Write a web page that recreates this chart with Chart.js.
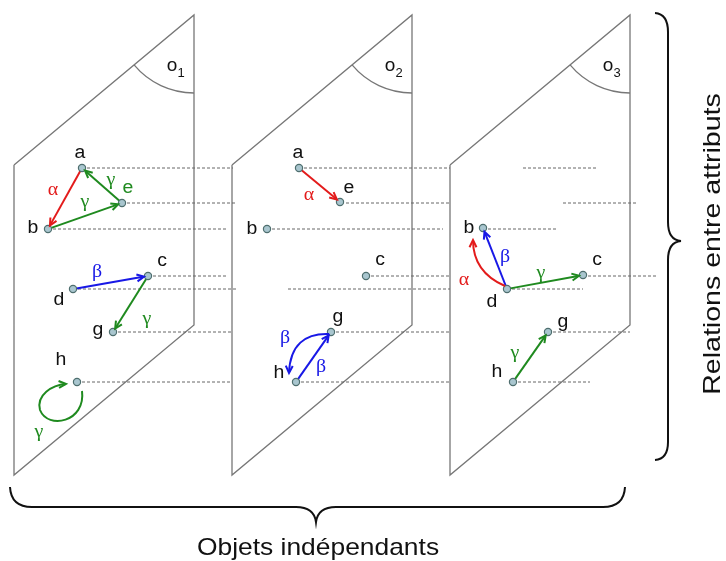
<!DOCTYPE html>
<html><head><meta charset="utf-8">
<script src="https://cdn.jsdelivr.net/npm/chart.js@4/dist/chart.umd.min.js"></script>
<style>html,body{margin:0;padding:0;background:#fff}#wrap{width:726px;height:561px;position:relative}</style>
</head><body><div id="wrap"><canvas id="c"></canvas></div>
<script>
// ---- panels (independent objects) ----
const panelNames = ['o', 'o', 'o'];
const panelIndex = ['1', '2', '3'];
const panelOffsetX = [0, 218, 436];
const panelShapeX = [14, 194, 194, 14, 14];
const panelShapeY = [165, 15, 325, 475, 165];

// ---- attribute nodes per panel ----
const p1Names = ['a', 'b', 'c', 'd', 'e', 'g', 'h'];
const p1X = [82, 48, 148, 73, 122, 113, 77];
const p1Y = [168, 229, 276, 289, 203, 332, 382];
const p1LabelX = [80, 33, 162, 59, 128, 98, 61];
const p1LabelY = [153, 228, 261, 300, 188, 330, 360];

const p2Names = ['a', 'b', 'c', 'e', 'g', 'h'];
const p2X = [299, 267, 366, 340, 331, 296];
const p2Y = [168, 229, 276, 202, 332, 382];
const p2LabelX = [298, 252, 380, 349, 338, 279];
const p2LabelY = [153, 229, 260, 188, 317, 373];

const p3Names = ['b', 'c', 'd', 'g', 'h'];
const p3X = [483, 583, 507, 548, 513];
const p3Y = [228, 275, 289, 332, 382];
const p3LabelX = [469, 597, 492, 563, 497];
const p3LabelY = [228, 260, 302, 322, 372];

// ---- relations ----
const relNames = ['α', 'β', 'γ'];
const relColors = ['#e31b1b', '#1818e6', '#1f8a1f'];
const p1Arrows = [['a','b','α'], ['b','e','γ'], ['e','a','γ'], ['d','c','β'], ['c','g','γ']];
const p2Arrows = [['a','e','α'], ['h','g','β']];
const p3Arrows = [['d','b','β'], ['d','c','γ'], ['h','g','γ']];
// curved relations (cubic bezier chains)
const curveRel = ['γ', 'β', 'α'];
const curve1 = [[82,391],[86,422],[48,430],[40,410],[36,395],[52,385],[66,384]];
const curve2 = [[329,334],[305,333],[290,345],[289,373]];
const curve3 = [[505,286],[484,277],[473,261],[473,240]];
const curves = [curve1, curve2, curve3];
// relation labels
const rel1 = [['α',53,190],['γ',111,180],['γ',85,202],['β',97,272],['γ',147,319],['γ',39,432]];
const rel2 = [['α',309,195],['β',321,367],['β',285,338]];
const rel3 = [['β',505,257],['α',464,280],['γ',541,273],['γ',515,353]];

// ---- dashed attribute rows ----
const dashRowY = [168, 203, 229, 276, 289, 332, 382];
const dashP1 = [[82,233],[122,237],[48,228],[148,228],[73,237],[113,233],[77,230]];
const dashP2 = [[299,450],[341,450],[267,443],[366,450],[288,450],[331,450],[296,450]];
const dashP3 = [[523,597],[563,638],[483,557],[583,658],[507,583],[548,630],[513,590]];

const bottomTitle = 'Objets indépendants';
const sideTitle = 'Relations entre attributs';

// ---------------------------------------------------------
const panels = [
  {names:p1Names, X:p1X, Y:p1Y, LX:p1LabelX, LY:p1LabelY, arrows:p1Arrows, rels:rel1},
  {names:p2Names, X:p2X, Y:p2Y, LX:p2LabelX, LY:p2LabelY, arrows:p2Arrows, rels:rel2},
  {names:p3Names, X:p3X, Y:p3Y, LX:p3LabelX, LY:p3LabelY, arrows:p3Arrows, rels:rel3}
];
const colorOf = r => relColors[relNames.indexOf(r)];

const datasets = [];
// nodes (index 0 => drawn on top)
const nodePts = [];
panels.forEach(p => p.names.forEach((n,i) => nodePts.push({x:p.X[i], y:p.Y[i]})));
datasets.push({type:'scatter', data:nodePts, pointRadius:3.6, pointBackgroundColor:'#a9c6cf',
  pointBorderColor:'#4e6e6e', pointBorderWidth:1.2, showLine:false});

// straight arrows shafts
const arrowHeads = [];
panels.forEach(p => {
  p.arrows.forEach(([f,t,r]) => {
    const i = p.names.indexOf(f), j = p.names.indexOf(t);
    const x0=p.X[i], y0=p.Y[i], x1=p.X[j], y1=p.Y[j];
    const L = Math.hypot(x1-x0, y1-y0), ux=(x1-x0)/L, uy=(y1-y0)/L;
    const sx=x0+ux*3.5, sy=y0+uy*3.5, ex=x1-ux*4, ey=y1-uy*4;
    datasets.push({type:'line', data:[{x:sx,y:sy},{x:ex-ux*1,y:ey-uy*1}], borderColor:colorOf(r),
      borderWidth:2, pointRadius:0, showLine:true, tension:0});
    arrowHeads.push({x:ex, y:ey, ux, uy, color:colorOf(r)});
  });
});
// dashed rows
[dashP1, dashP2, dashP3].forEach(seg => seg.forEach((s,k) => {
  datasets.push({type:'line', data:[{x:s[0],y:dashRowY[k]},{x:s[1],y:dashRowY[k]}], borderColor:'#666',
    borderWidth:1, borderDash:[3,2], pointRadius:0, showLine:true});
}));
// panel outlines
panelOffsetX.forEach(off => {
  datasets.push({type:'line', data:panelShapeX.map((x,i)=>({x:x+off, y:panelShapeY[i]})),
    borderColor:'#777', borderWidth:1.3, pointRadius:0, showLine:true, tension:0});
});

const deco = {
  id:'deco',
  afterDatasetsDraw(chart) {
    const ctx = chart.ctx, xs = chart.scales.x, ys = chart.scales.y;
    const X = v => xs.getPixelForValue(v), Y = v => ys.getPixelForValue(v);
    const head = (x,y,ux,uy,color) => {
      const a = 0.45, L = 8;
      ctx.save(); ctx.strokeStyle=color; ctx.fillStyle=color; ctx.lineWidth=2; ctx.lineJoin='miter';
      const ang = Math.atan2(uy,ux);
      ctx.beginPath();
      ctx.moveTo(X(x)-L*Math.cos(ang-a), Y(y)-L*Math.sin(ang-a));
      ctx.lineTo(X(x), Y(y));
      ctx.lineTo(X(x)-L*Math.cos(ang+a), Y(y)-L*Math.sin(ang+a));
      ctx.stroke(); ctx.restore();
    };
    arrowHeads.forEach(h => head(h.x,h.y,h.ux,h.uy,h.color));
    // curved arrows
    curves.forEach((c,k) => {
      const col = colorOf(curveRel[k]);
      ctx.save(); ctx.strokeStyle=col; ctx.lineWidth=2;
      ctx.beginPath(); ctx.moveTo(X(c[0][0]),Y(c[0][1]));
      for (let i=1;i+2<c.length;i+=3) ctx.bezierCurveTo(X(c[i][0]),Y(c[i][1]),X(c[i+1][0]),Y(c[i+1][1]),X(c[i+2][0]),Y(c[i+2][1]));
      ctx.stroke(); ctx.restore();
      const e=c[c.length-1], p=c[c.length-2];
      const L=Math.hypot(e[0]-p[0],e[1]-p[1]);
      head(e[0],e[1],(e[0]-p[0])/L,(e[1]-p[1])/L,col);
    });
    // angle arcs & panel names
    const startA = Math.PI/2, endA = Math.atan2(panelShapeY[0]-panelShapeY[1], panelShapeX[0]-panelShapeX[1]);
    panelOffsetX.forEach((off,k) => {
      ctx.save(); ctx.strokeStyle='#777'; ctx.lineWidth=1.3;
      ctx.beginPath(); ctx.arc(X(panelShapeX[1]+off), Y(panelShapeY[1]), 78, startA, endA); ctx.stroke();
      ctx.fillStyle='#111'; ctx.textAlign='center'; ctx.textBaseline='middle';
      ctx.font='19px "Liberation Sans", Arial, sans-serif';
      ctx.fillText(panelNames[k], X(172+off), Y(66));
      ctx.font='13px "Liberation Sans", Arial, sans-serif';
      ctx.fillText(panelIndex[k], X(181+off), Y(73));
      ctx.restore();
    });
    const txt = (t,x,y,font,color,sx) => {
      ctx.save(); ctx.translate(X(x),Y(y)); ctx.scale(sx||1.08,1);
      ctx.font=font; ctx.fillStyle=color; ctx.textAlign='center'; ctx.textBaseline='middle';
      ctx.fillText(t,0,0); ctx.restore();
    };
    // node labels
    panels.forEach((p,pi) => p.names.forEach((n,i) => {
      const col = (pi===0 && n==='e') ? relColors[2] : '#111';
      txt(n, p.LX[i], p.LY[i], '18px "Liberation Sans", Arial, sans-serif', col);
    }));
    // relation labels
    panels.forEach(p => p.rels.forEach(([r,x,y]) => {
      txt(r, x, y, '19px "Liberation Serif", "Times New Roman", serif', colorOf(r), 1.05);
    }));
    // braces
    ctx.save(); ctx.strokeStyle='#111'; ctx.lineWidth=2;
    ctx.beginPath();
    ctx.moveTo(X(655),Y(13)); ctx.quadraticCurveTo(X(668),Y(14),X(668),Y(32));
    ctx.lineTo(X(668),Y(222)); ctx.quadraticCurveTo(X(668),Y(240),X(681),Y(241));
    ctx.quadraticCurveTo(X(668),Y(242),X(668),Y(260));
    ctx.lineTo(X(668),Y(442)); ctx.quadraticCurveTo(X(668),Y(459),X(655),Y(460));
    ctx.stroke();
    ctx.beginPath();
    ctx.moveTo(X(10),Y(487)); ctx.quadraticCurveTo(X(11),Y(507),X(32),Y(507));
    ctx.lineTo(X(296),Y(507)); ctx.quadraticCurveTo(X(314),Y(507),X(316),Y(522));
    ctx.quadraticCurveTo(X(318),Y(507),X(336),Y(507));
    ctx.lineTo(X(603),Y(507)); ctx.quadraticCurveTo(X(624),Y(507),X(625),Y(487));
    ctx.stroke(); ctx.restore();
    // titles
    ctx.save(); ctx.translate(X(318),Y(548)); ctx.scale(1.1,1);
    ctx.font='24px "Liberation Sans", Arial, sans-serif'; ctx.fillStyle='#111';
    ctx.textAlign='center'; ctx.textBaseline='middle'; ctx.fillText(bottomTitle,0,0); ctx.restore();
    ctx.save(); ctx.translate(X(713),Y(244)); ctx.rotate(-Math.PI/2); ctx.scale(1.19,1);
    ctx.font='24px "Liberation Sans", Arial, sans-serif'; ctx.fillStyle='#111';
    ctx.textAlign='center'; ctx.textBaseline='middle'; ctx.fillText(sideTitle,0,0); ctx.restore();
  }
};

new Chart(document.getElementById('c'), {
  type:'scatter',
  data:{datasets},
  options:{
    responsive:true, maintainAspectRatio:false, animation:false,
    layout:{padding:0, autoPadding:false},
    plugins:{legend:{display:false}, tooltip:{enabled:false}},
    scales:{
      x:{type:'linear', min:0, max:726, display:false},
      y:{type:'linear', min:0, max:561, reverse:true, display:false}
    }
  },
  plugins:[deco]
});
</script></body></html>
